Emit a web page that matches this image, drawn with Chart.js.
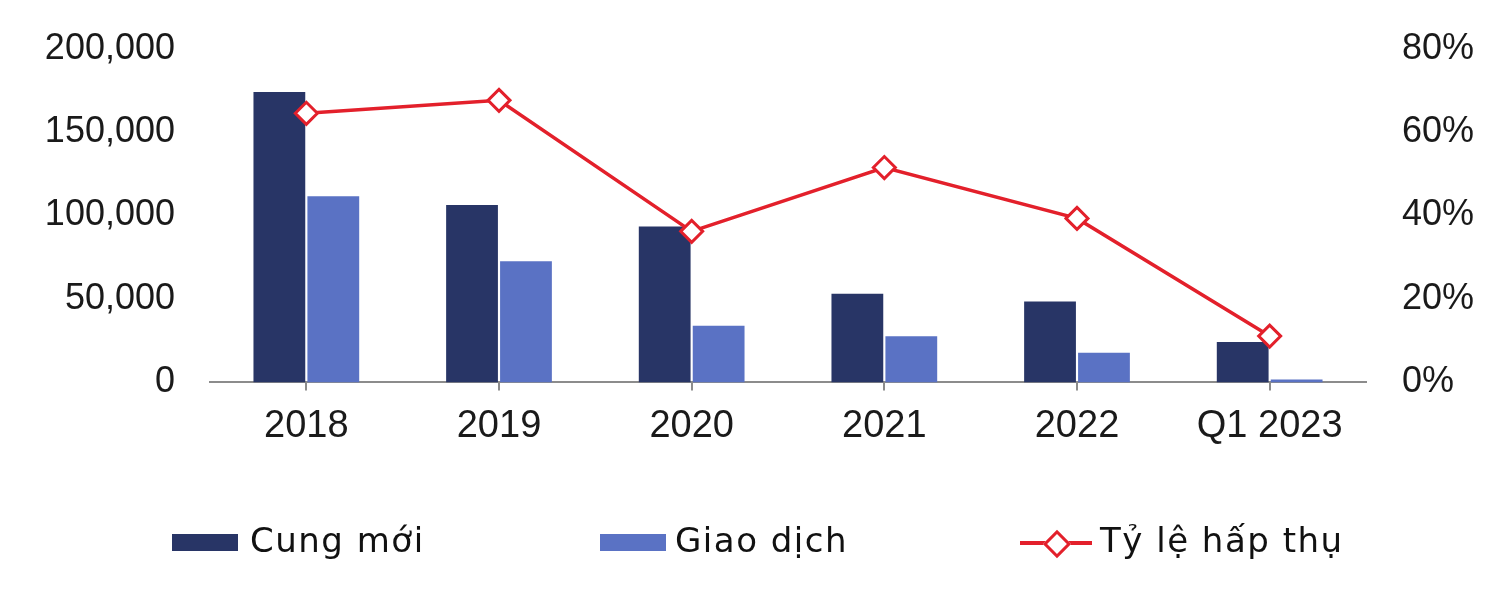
<!DOCTYPE html>
<html>
<head>
<meta charset="utf-8">
<script src="https://cdn.jsdelivr.net/npm/chart.js@4.4.0/dist/chart.umd.min.js"></script>
<style>
  body { margin: 0; background: #fff; overflow: hidden; }
  #wrap { position: relative; width: 1505px; height: 595px; overflow: hidden; }
  #chart { position: absolute; left: 0; top: -9px; }
  #legend .txt {
    position: absolute; top: 523px; white-space: nowrap;
    font-family: "DejaVu Sans", sans-serif; font-size: 34px; line-height: 34px;
    letter-spacing: 1.5px; color: #111;
  }
  #legend .box { position: absolute; }
</style>
</head>
<body>
<div id="wrap">
  <canvas id="chart" width="1505" height="604"></canvas>
  <div id="legend"></div>
</div>
<script>
// so lieu doc tu hinh
const labels = ['2018', '2019', '2020', '2021', '2022', 'Q1 2023'];
const cungMoi = [174000, 106300, 93400, 53100, 48500, 24200];
const giaoDich = [111500, 72600, 34000, 27600, 17800, 1700];
const tyLeHapThu = [64.5, 67.6, 36.2, 51.5, 39.3, 11.1];
const leftTicks = [0, 50000, 100000, 150000, 200000];
const rightTicks = [0, 20, 40, 60, 80];

const navy = '#283566';
const blue = '#5A72C4';
const red = '#E3202B';

const tickFont = { family: '"Liberation Sans", Arial, sans-serif', size: 36 };

const ctx = document.querySelector('#chart').getContext('2d');
const chart = new Chart(ctx, {
  type: 'bar',
  data: {
    labels: labels,
    datasets: [
      {
        type: 'line',
        label: 'Tỷ lệ hấp thụ',
        data: tyLeHapThu,
        yAxisID: 'y1',
        order: 0,
        borderColor: red,
        borderWidth: 3.5,
        pointStyle: 'rectRot',
        pointRadius: 11,
        pointBorderWidth: 3,
        pointBackgroundColor: '#fff',
        pointBorderColor: red,
        tension: 0
      },
      {
        label: 'Cung mới',
        data: cungMoi,
        yAxisID: 'y',
        order: 1,
        backgroundColor: navy,
        categoryPercentage: 0.56,
        barPercentage: 0.96
      },
      {
        label: 'Giao dịch',
        data: giaoDich,
        yAxisID: 'y',
        order: 1,
        backgroundColor: blue,
        categoryPercentage: 0.56,
        barPercentage: 0.96
      }
    ]
  },
  options: {
    responsive: false,
    animation: false,
    layout: { padding: { top: 37, bottom: 133, left: 0, right: 0 } },
    plugins: { legend: { display: false }, tooltip: { enabled: false } },
    scales: {
      x: {
        grid: { drawOnChartArea: false, offset: false, tickLength: 8, color: '#8c8c8c', lineWidth: 2 },
        border: { color: '#8c8c8c', width: 2 },
        ticks: { font: { ...tickFont, size: 38 }, color: '#1a1a1a', padding: 13, maxRotation: 0 }
      },
      y: {
        position: 'left',
        min: 0, max: 200000,
        afterBuildTicks: s => { s.ticks = leftTicks.map(v => ({ value: v })); },
        afterFit: s => { s.width = 210; },
        grid: { display: false, drawTicks: false },
        border: { display: false },
        ticks: {
          font: tickFont, color: '#1a1a1a', padding: 35,
          callback: v => v.toLocaleString('en-US')
        }
      },
      y1: {
        position: 'right',
        min: 0, max: 80,
        afterBuildTicks: s => { s.ticks = rightTicks.map(v => ({ value: v })); },
        afterFit: s => { s.width = 139; },
        grid: { display: false, drawTicks: false },
        border: { display: false },
        ticks: {
          font: tickFont, color: '#1a1a1a', padding: 36,
          callback: v => v + '%'
        }
      }
    }
  }
});

// chu thich ve bang html
const legend = document.querySelector('#legend');
const items = [
  { label: chart.data.datasets[1].label, color: navy, kind: 'box', x: 172, tx: 250 },
  { label: chart.data.datasets[2].label, color: blue, kind: 'box', x: 600, tx: 675 },
  { label: chart.data.datasets[0].label, color: red, kind: 'line', x: 1020, tx: 1100 }
];
items.forEach(it => {
  if (it.kind === 'box') {
    const b = document.createElement('div');
    b.className = 'box';
    b.style.cssText = `left:${it.x}px;top:534px;width:66px;height:17px;background:${it.color};`;
    legend.appendChild(b);
  } else {
    const l = document.createElement('div');
    l.className = 'box';
    l.style.cssText = `left:${it.x}px;top:541px;width:72px;height:4px;background:${it.color};`;
    legend.appendChild(l);
    const d = document.createElement('div');
    d.className = 'box';
    d.style.cssText = `left:${it.x + 27}px;top:534px;width:14px;height:14px;background:#fff;border:3px solid ${it.color};transform:rotate(45deg);`;
    legend.appendChild(d);
  }
  const t = document.createElement('div');
  t.className = 'txt';
  t.style.left = it.tx + 'px';
  t.textContent = it.label;
  legend.appendChild(t);
});
</script>
</body>
</html>
